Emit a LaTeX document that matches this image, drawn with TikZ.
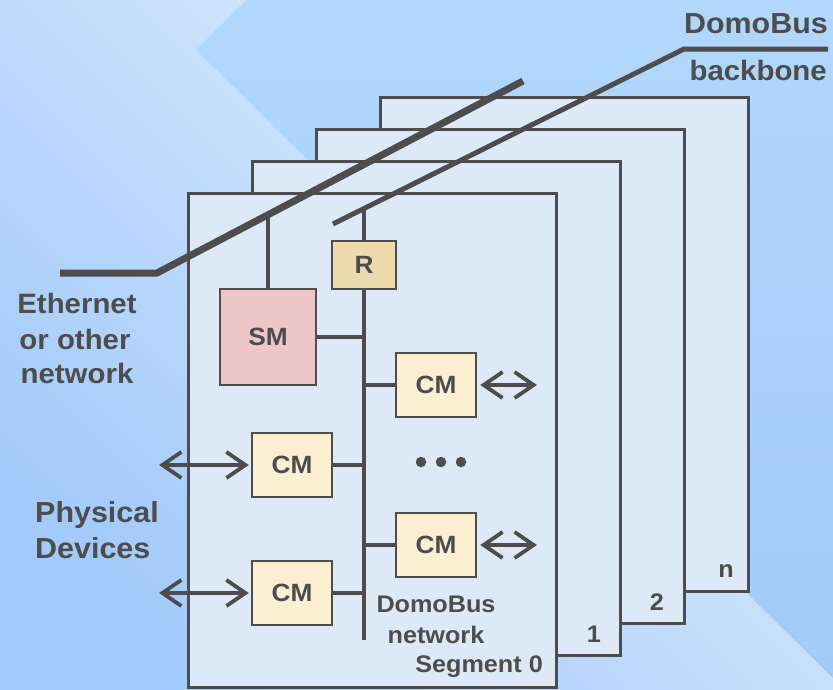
\documentclass[tikz,border=0pt]{standalone}
\usepackage{fontspec}
\setmainfont[FakeStretch=1.05]{Liberation Sans}
\usetikzlibrary{arrows.meta}
\definecolor{ink}{HTML}{4D4D4D}
\definecolor{bglightA}{HTML}{A2CAFA}
\definecolor{bglightB}{HTML}{C9E2FD}
\definecolor{bglightC}{HTML}{E4F1FF}
\definecolor{bgdarkT}{HTML}{B2D7FC}
\definecolor{bgdarkB}{HTML}{A1CAFA}
\definecolor{panelfill}{HTML}{DDE9F6}
\definecolor{smfill}{HTML}{EEC6C8}
\definecolor{rfill}{HTML}{EDDBAE}
\definecolor{cmfill}{HTML}{FCEED0}
\tikzset{
  panel/.style={draw=ink, line width=3pt, fill=panelfill, rectangle, inner sep=0pt,
    minimum width=368pt, minimum height=494pt},
  box/.style={draw=ink, line width=2.5pt, rectangle, inner sep=0pt,
    font=\fontsize{25}{30}\selectfont\bfseries, text=ink},
  cmbox/.style={box, fill=cmfill, minimum width=80pt, minimum height=64pt},
  wire/.style={draw=ink, line width=3.5pt},
  dev/.style={draw=ink, line width=3.8pt,
    {Straight Barb[length=19pt,width=26pt]}-{Straight Barb[length=19pt,width=26pt]}},
  biglabel/.style={text=ink, inner sep=0pt, font=\fontsize{29}{35}\selectfont\bfseries},
  smalllabel/.style={text=ink, inner sep=0pt, font=\fontsize{24}{30}\selectfont\bfseries},
  dot/.style={circle, fill=ink, inner sep=0pt, minimum size=10.5pt}
}
\begin{document}
\begin{tikzpicture}[x=1pt,y=-1pt]
\useasboundingbox (0,0) rectangle (833,689);
% background
\shade[shading=axis, bottom color=bglightA, middle color=bglightB, top color=bglightC, shading angle=-45]
  (0,0) rectangle (833,689);
\shade[top color=bgdarkT, bottom color=bgdarkB]
  (246,0) -- (833,0) -- (833,678) -- (196,50) -- cycle;
% panels, back to front
\node[panel] (p3) at (564,344) {};
\node[panel] (p2) at (500,376) {};
\node[panel] (p1) at (436,408) {};
\node[panel] (p0) at (372,440) {};
% segment numbers
\node[smalllabel, anchor=base] (n3) at (726,577) {n};
\node[smalllabel, anchor=base] (n2) at (657,610) {2};
\node[smalllabel, anchor=base] (n1) at (594,642) {1};
% networks
\coordinate (e0) at (60,273);
\coordinate (e1) at (157,273);
\coordinate (e2) at (523,81);
\draw[ink, line width=7pt, line join=bevel] (e0) -- (e1) -- (e2);
\coordinate (b0) at (333,224);
\coordinate (b1) at (684,49);
\coordinate (b2) at (828,49);
\draw[ink, line width=5pt, line join=bevel] (b0) -- (b1) -- (b2);
% modules
\node[box, fill=smfill, minimum width=96pt, minimum height=96pt] (sm) at (268,337) {SM};
\node[box, fill=rfill, minimum width=64pt, minimum height=48pt] (r) at (364,265) {R};
\node[cmbox] (cm1) at (436,385) {CM};
\node[cmbox] (cm2) at (292,465) {CM};
\node[cmbox] (cm3) at (436,545) {CM};
\node[cmbox] (cm4) at (292,593) {CM};
\coordinate (smtap) at (268,214.8);
\coordinate (rtap) at (364,208.5);
\coordinate (busend) at (364,640);
\draw[wire] (sm.north) -- (smtap);
\draw[wire] (r.north) -- (rtap);
\draw[wire] (r.south) -- (busend);
\draw[wire] (sm.east) -- (sm.east -| r.south);
\draw[wire] (cm1.west) -- (cm1.west -| r.south);
\draw[wire] (cm2.east) -- (cm2.east -| r.south);
\draw[wire] (cm3.west) -- (cm3.west -| r.south);
\draw[wire] (cm4.east) -- (cm4.east -| r.south);
% physical device arrows
\coordinate (a1) at (537,385);
\coordinate (a2) at (159,465);
\coordinate (a3) at (537,545);
\coordinate (a4) at (159,593);
\draw[dev] ([xshift=3pt]cm1.east) -- (a1);
\draw[dev] (a2) -- ([xshift=-2pt]cm2.west);
\draw[dev] ([xshift=3pt]cm3.east) -- (a3);
\draw[dev] (a4) -- ([xshift=-2pt]cm4.west);
% dots
\node[dot] (d1) at (421,462) {};
\node[dot] (d2) at (441,462) {};
\node[dot] (d3) at (461,462) {};
% labels
\node[biglabel, anchor=base east] (t1) at (828,33) {DomoBus};
\node[biglabel, anchor=base east, font=\fontsize{28}{34}\selectfont\bfseries] (t2) at (827,80) {backbone};
\node[biglabel, anchor=base, font=\fontsize{28}{34}\selectfont\bfseries] (t3) at (77,313) {Ethernet};
\node[biglabel, anchor=base, font=\fontsize{28}{34}\selectfont\bfseries] (t4) at (75,349) {or other};
\node[biglabel, anchor=base, font=\fontsize{28}{34}\selectfont\bfseries] (t5) at (77,383) {network};
\node[biglabel, anchor=base west] (t6) at (35,522) {Physical};
\node[biglabel, anchor=base west] (t7) at (35,558) {Devices};
\node[smalllabel, anchor=base] (t8) at (436,612) {DomoBus};
\node[smalllabel, anchor=base] (t9) at (436,643) {network};
\node[smalllabel, anchor=base east] (t10) at (543,672) {Segment 0};
\end{tikzpicture}
\end{document}
